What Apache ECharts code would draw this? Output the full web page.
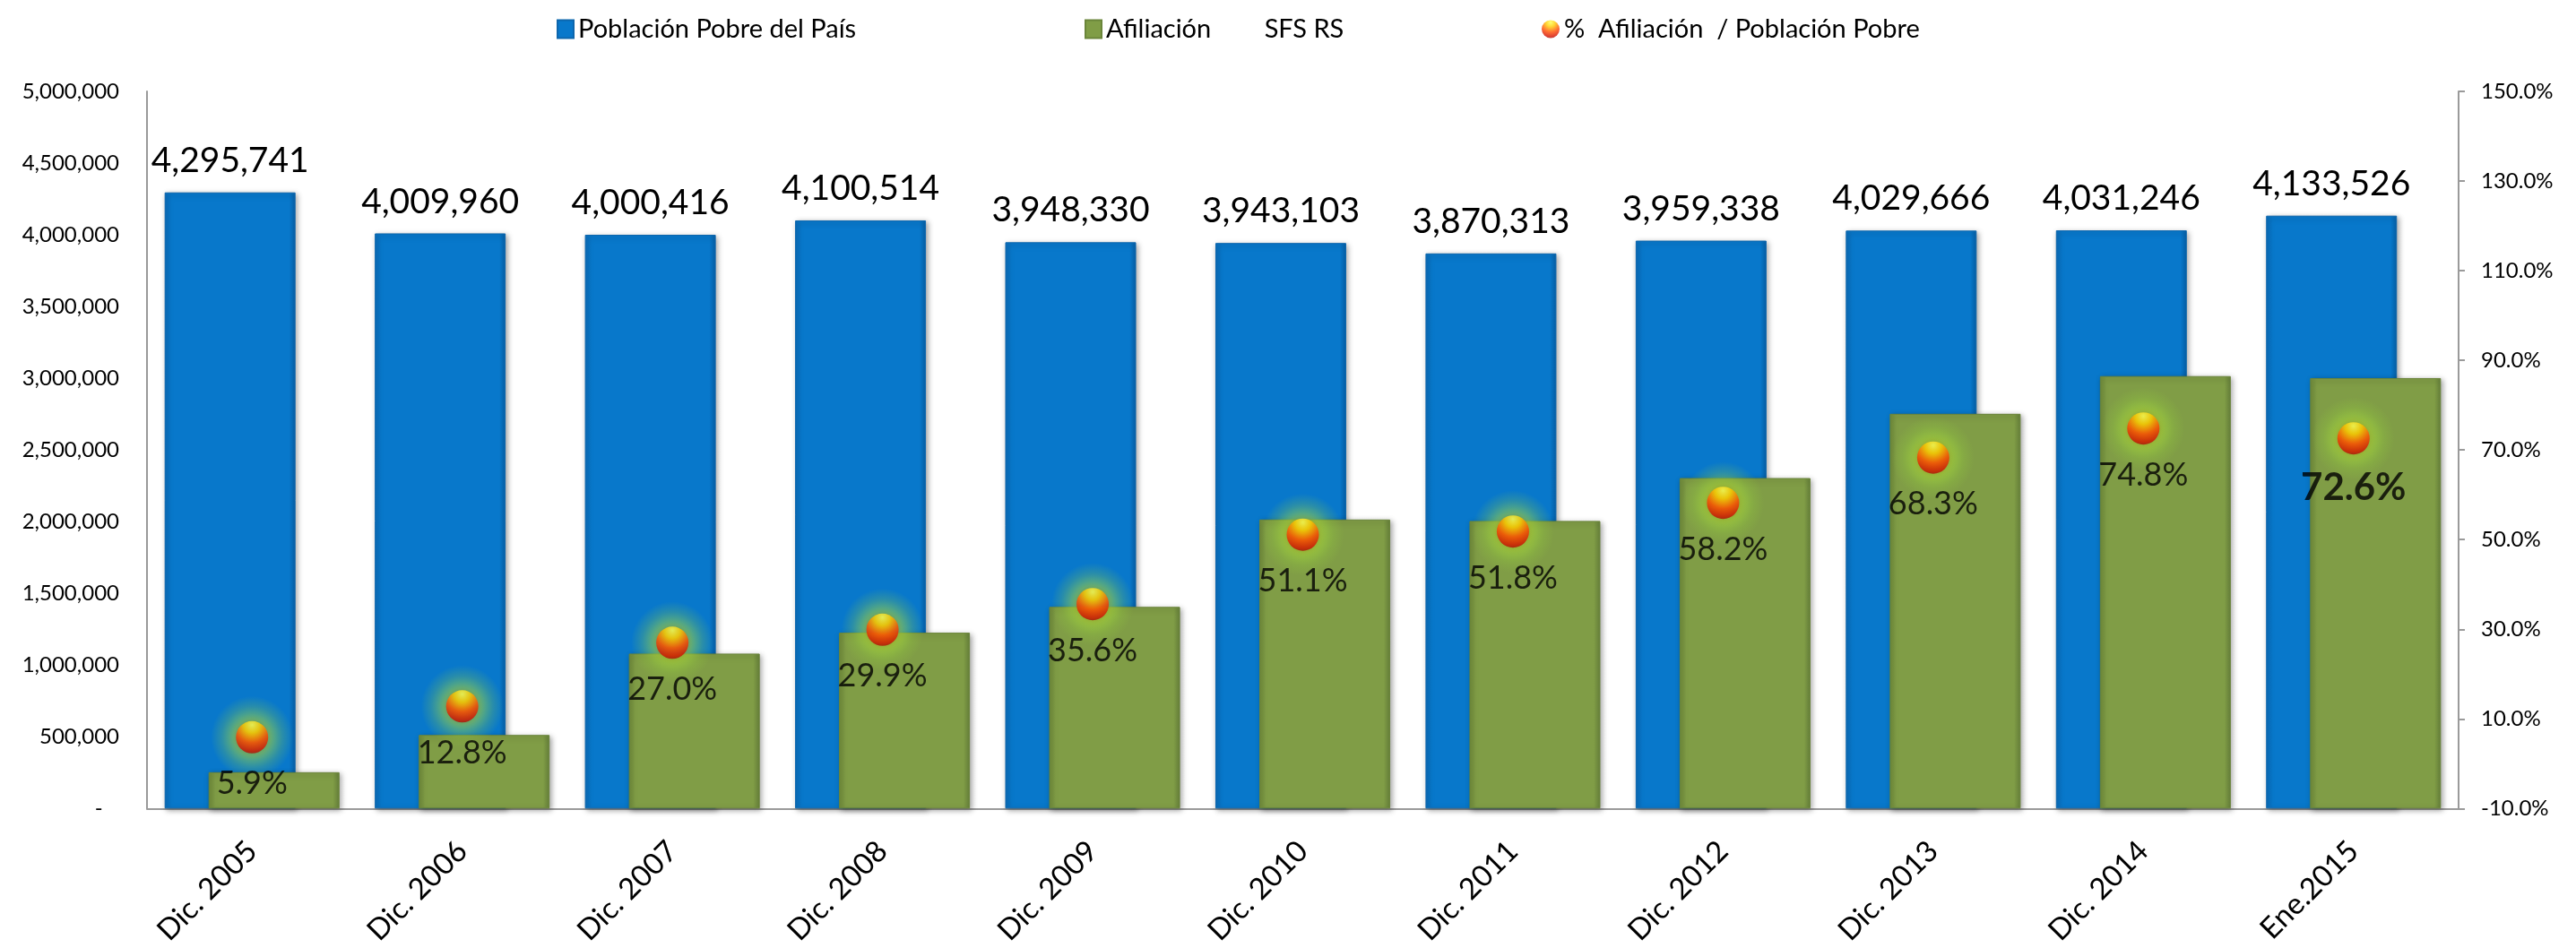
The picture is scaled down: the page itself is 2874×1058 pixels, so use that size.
<!DOCTYPE html>
<html>
<head>
<meta charset="utf-8">
<style>
html,body{margin:0;padding:0;background:#fff;}
#chart{width:2874px;height:1058px;}
</style>
<script src="https://cdn.jsdelivr.net/npm/echarts@6/dist/echarts.min.js"></script>
</head>
<body>
<div id="chart"></div>
<script>
const categories = ['Dic. 2005','Dic. 2006','Dic. 2007','Dic. 2008','Dic. 2009','Dic. 2010','Dic. 2011','Dic. 2012','Dic. 2013','Dic. 2014','Ene.2015'];
const poblacionPobre = [4295741,4009960,4000416,4100514,3948330,3943103,3870313,3959338,4029666,4031246,4133526];
const afiliacion = [253000,513000,1080000,1226000,1406000,2015000,2005000,2304000,2752000,3015000,3001000];
const porcentaje = [5.9,12.8,27.0,29.9,35.6,51.1,51.8,58.2,68.3,74.8,72.6];
const seriesNames = ['Población Pobre del País','Afiliación        SFS RS','%  Afiliación  / Población Pobre'];

const FONT = 'Lato, "Open Sans", sans-serif';
const fmtInt = v => Math.round(v).toString().replace(/\B(?=(\d{3})+(?!\d))/g, ',');

const sphere = new echarts.graphic.RadialGradient(0.5, 0.12, 1.0, [
  {offset:0, color:'#ffff55'},
  {offset:0.25, color:'#ffcc00'},
  {offset:0.55, color:'#ff4a00'},
  {offset:0.8, color:'#d41000'},
  {offset:1, color:'#6a0808'}
]);
const glow = new echarts.graphic.RadialGradient(0.5, 0.5, 0.5, [
  {offset:0, color:'rgba(190,240,60,0.95)'},
  {offset:0.45, color:'rgba(170,225,60,0.75)'},
  {offset:0.75, color:'rgba(150,210,60,0.3)'},
  {offset:1, color:'rgba(150,210,60,0)'}
]);

const legendText = {fontFamily:FONT, fontSize:29, color:'#000'};

const chart = echarts.init(document.getElementById('chart'), null, {renderer:'canvas'});
chart.setOption({
  animation:false,
  backgroundColor:'#ffffff',
  textStyle:{fontFamily:FONT},
  legend:[
    {data:[seriesNames[0]], left:621, top:18, padding:0, itemWidth:18, itemHeight:20, icon:'rect', textStyle:legendText},
    {data:[seriesNames[1]], left:1210, top:18, padding:0, itemWidth:18, itemHeight:20, icon:'rect', textStyle:legendText},
    {data:[seriesNames[2]], left:1720, top:18, padding:0, itemWidth:20, itemHeight:20, icon:'circle', textStyle:legendText}
  ],
  grid:{left:164, right:131, top:102, bottom:151, containLabel:false},
  xAxis:{
    type:'category', data:categories,
    axisLine:{show:true, lineStyle:{color:'#9a9a9a', width:2}},
    axisTick:{show:false},
    axisLabel:{rotate:45, fontFamily:FONT, fontSize:33, color:'#000', margin:42, interval:0}
  },
  yAxis:[
    {type:'value', min:0, max:5000000, interval:500000, position:'left',
     axisLine:{show:true, lineStyle:{color:'#9a9a9a', width:2}},
     axisTick:{show:false}, splitLine:{show:false},
     axisLabel:{fontFamily:FONT, fontSize:24, color:'#000', margin:31,
       formatter: v => v === 0 ? '-   ' : fmtInt(v)}},
    {type:'value', min:-10, max:150, interval:20, position:'right',
     axisLine:{show:true, lineStyle:{color:'#9a9a9a', width:2}},
     axisTick:{show:true, inside:false, length:7, lineStyle:{color:'#9a9a9a', width:2}},
     splitLine:{show:false},
     axisLabel:{fontFamily:FONT, fontSize:24, color:'#000', margin:25,
       formatter: v => v.toFixed(1) + '%'}}
  ],
  series:[
    {name:seriesNames[0], type:'bar', yAxisIndex:0, data:poblacionPobre,
     barWidth:146, barGap:'-66.4%', z:2,
     itemStyle:{
       color:new echarts.graphic.LinearGradient(0,0,1,0,[
         {offset:0,color:'#0a6cb8'},{offset:0.05,color:'#0878cb'},
         {offset:0.95,color:'#0878cb'},{offset:1,color:'#065fa6'}]),
       borderColor:'#0d66ad', borderWidth:1,
       shadowBlur:6, shadowColor:'rgba(0,0,0,0.35)', shadowOffsetX:2, shadowOffsetY:2},
     label:{show:true, position:'top', distance:16, fontFamily:FONT, fontSize:39, color:'#000',
       formatter: p => fmtInt(p.value)}},
    {name:seriesNames[1], type:'bar', yAxisIndex:0, data:afiliacion,
     barWidth:146, z:3,
     itemStyle:{
       color:new echarts.graphic.LinearGradient(0,0,1,0,[
         {offset:0,color:'#6f8a3a'},{offset:0.05,color:'#809d46'},
         {offset:0.95,color:'#809d46'},{offset:1,color:'#66803a'}]),
       borderColor:'#6a853a', borderWidth:1,
       shadowBlur:6, shadowColor:'rgba(0,0,0,0.35)', shadowOffsetX:2, shadowOffsetY:2}},
    {name:'glow', type:'scatter', yAxisIndex:1, z:4, silent:true,
     data:porcentaje, symbol:'circle', symbolSize:92,
     itemStyle:{color:glow, opacity:0.75}, label:{show:false}},
    {name:seriesNames[2], type:'scatter', yAxisIndex:1, z:5,
     data: porcentaje.map((v,i) => i === porcentaje.length-1
        ? {value:v, label:{fontWeight:'bold', fontSize:42}} : v),
     symbol:'circle', symbolSize:36,
     itemStyle:{color:sphere, shadowBlur:10, shadowColor:'rgba(120,60,0,0.4)'},
     label:{show:true, position:'bottom', distance:16, fontFamily:FONT, fontSize:36, color:'#000',
       formatter: p => p.value.toFixed(1) + '%'}}
  ]
});
</script>
</body>
</html>
